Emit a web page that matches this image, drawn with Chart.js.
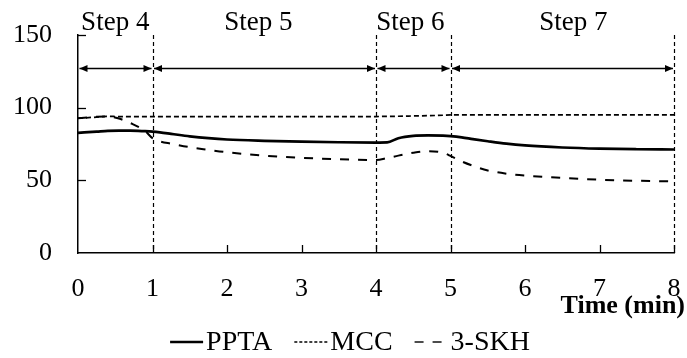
<!DOCTYPE html>
<html><head><meta charset="utf-8">
<script src="https://cdn.jsdelivr.net/npm/chart.js@4.4.1/dist/chart.umd.min.js"></script>
<style>html,body{margin:0;padding:0;background:#fff;}#wrap{width:687px;height:358px;position:relative;}</style>
</head><body><div id="wrap"><canvas id="c" width="687" height="358"></canvas></div>
<script>
const time = [0, 0.25, 0.4, 0.55, 0.7, 0.9, 1, 1.1, 1.25, 1.5, 1.75, 2, 2.5, 3, 3.5, 4, 4.15, 4.3, 4.5, 4.7, 4.9, 5, 5.15, 5.3, 5.5, 5.75, 6, 6.5, 7, 7.5, 8];
const ppta = [82.7, 83.5, 84, 84.2, 84.2, 83.8, 83.5, 83, 82, 80.3, 79, 78.1, 77.2, 76.6, 76.2, 76, 76.1, 79, 80.6, 80.9, 80.7, 80.4, 79.6, 78.4, 76.9, 75.2, 74.0, 72.6, 71.8, 71.4, 71.2];
const mcc = [92.7, 93.5, 94, 93.9, 93.9, 93.9, 93.9, 93.9, 93.9, 93.9, 93.9, 93.9, 93.9, 93.9, 93.9, 93.9, 94, 94.1, 94.3, 94.5, 94.8, 95, 95, 95, 95, 95, 95, 95, 95, 95, 95];
const skh = [92.7, 93.8, 94, 92.5, 89.5, 84, 79, 76.8, 75.2, 72.8, 71, 69.3, 67, 65.5, 64.5, 64, 65.3, 67, 69, 70.1, 69, 66.8, 63, 60, 56.8, 54.6, 53.3, 51.7, 50.4, 49.7, 49.3];
const seriesNames = ['PPTA', 'MCC', '3-SKH'];
const xTicks = [0, 1, 2, 3, 4, 5, 6, 7, 8];
const yTicks = [0, 50, 100, 150];
const stepNames = ['Step 4', 'Step 5', 'Step 6', 'Step 7'];
const stepBounds = [0, 1, 4, 5, 8];
const stepLabelX = [0.5, 2.42, 4.46, 6.65];
const arrowY = 127;
const xTitle = 'Time (min)';

const SERIF = '"Liberation Serif", "DejaVu Serif", serif';
function pts(ys){ return time.map((t,i)=>({x:t,y:ys[i]})); }

const decor = {
  id: 'decor',
  beforeDatasetsDraw(chart){
    const ctx = chart.ctx, xs = chart.scales.x, ys = chart.scales.y;
    ctx.save();
    ctx.strokeStyle = '#000';
    ctx.lineWidth = 1.2;
    ctx.setLineDash([4,3]);
    stepBounds.slice(1).forEach(b=>{
      const x = Math.round(xs.getPixelForValue(b))+0.5;
      ctx.beginPath(); ctx.moveTo(x, ys.getPixelForValue(150)); ctx.lineTo(x, ys.getPixelForValue(0)); ctx.stroke();
    });
    ctx.setLineDash([]);
    const ay = Math.round(ys.getPixelForValue(arrowY))+0.5;
    ctx.lineWidth = 1.3;
    ctx.fillStyle = '#000';
    for(let i=0;i<stepBounds.length-1;i++){
      const x1 = xs.getPixelForValue(stepBounds[i])+1.5;
      const x2 = xs.getPixelForValue(stepBounds[i+1])-1;
      ctx.beginPath(); ctx.moveTo(x1, ay); ctx.lineTo(x2, ay); ctx.stroke();
      ctx.beginPath(); ctx.moveTo(x1, ay); ctx.lineTo(x1+8, ay-3.5); ctx.lineTo(x1+8, ay+3.5); ctx.closePath(); ctx.fill();
      ctx.beginPath(); ctx.moveTo(x2, ay); ctx.lineTo(x2-8, ay-3.5); ctx.lineTo(x2-8, ay+3.5); ctx.closePath(); ctx.fill();
    }
    ctx.restore();
  },
  afterDraw(chart){
    const ctx = chart.ctx, xs = chart.scales.x, ys = chart.scales.y;
    const ca = chart.chartArea;
    ctx.save();
    ctx.strokeStyle = '#000'; ctx.fillStyle = '#000';
    ctx.lineWidth = 1.3;
    xTicks.slice(1).forEach(v=>{
      const x = Math.round(xs.getPixelForValue(v))+0.5;
      ctx.beginPath(); ctx.moveTo(x, ca.bottom); ctx.lineTo(x, ca.bottom-8); ctx.stroke();
    });
    yTicks.slice(1).forEach(v=>{
      const y = Math.round(ys.getPixelForValue(v))+0.5;
      ctx.beginPath(); ctx.moveTo(ca.left, y); ctx.lineTo(ca.left+8, y); ctx.stroke();
    });
    ctx.font = '27px ' + SERIF;
    ctx.textAlign = 'center'; ctx.textBaseline = 'alphabetic';
    stepNames.forEach((s,i)=>{ ctx.fillText(s, xs.getPixelForValue(stepLabelX[i]), 30); });
    ctx.font = 'bold 26px ' + SERIF;
    ctx.textAlign = 'right';
    ctx.fillText(xTitle, 685, 313);
    ctx.font = '28px ' + SERIF;
    ctx.textAlign = 'left'; ctx.textBaseline = 'middle';
    const sampleW = 33, gapST = 3, gapItem = 22, ly = 342;
    const widths = seriesNames.map(n=>ctx.measureText(n).width);
    const total = widths.reduce((a,w)=>a+sampleW+gapST+w,0) + gapItem*(seriesNames.length-1);
    let x = 350 - total/2;
    chart.data.datasets.forEach((ds,i)=>{
      ctx.save();
      ctx.lineWidth = i === 0 ? ds.borderWidth : 1.4;
      ctx.setLineDash(i === 1 ? [3,2] : (ds.borderDash || []));
      ctx.beginPath(); ctx.moveTo(x, ly); ctx.lineTo(x+sampleW, ly); ctx.stroke();
      ctx.restore();
      x += sampleW + gapST;
      ctx.fillText(seriesNames[i], x, ly+1);
      x += widths[i] + gapItem;
    });
    ctx.restore();
  }
};

function noPad(s){ s.paddingTop = 0; s.paddingBottom = 0; s.paddingLeft = 0; s.paddingRight = 0; }

new Chart(document.getElementById('c'), {
  type: 'line',
  data: {
    datasets: [
      {label: seriesNames[0], data: pts(ppta), borderColor:'#000', borderWidth:2.7, pointRadius:0, cubicInterpolationMode:'monotone', fill:false},
      {label: seriesNames[1], data: pts(mcc), borderColor:'#000', borderWidth:1.7, borderDash:[5,3], pointRadius:0, cubicInterpolationMode:'monotone', fill:false},
      {label: seriesNames[2], data: pts(skh), borderColor:'#000', borderWidth:2, borderDash:[9,9], pointRadius:0, cubicInterpolationMode:'monotone', fill:false}
    ]
  },
  options: {
    responsive: false,
    animation: false,
    layout: {padding: {top: 35, right: 13, left: 0, bottom: 40}},
    plugins: {legend: {display:false}, tooltip: {enabled:false}},
    scales: {
      x: {
        type: 'linear', min: 0, max: 8,
        afterBuildTicks(s){ s.ticks = xTicks.map(v=>({value:v})); },
        afterFit(s){ s.height = 65; noPad(s); },
        grid: {display:false, drawTicks:false},
        border: {display:true, color:'#000', width:1.5},
        ticks: {color:'#000', font:{family:SERIF, size:26}, padding:21, maxRotation:0, autoSkip:false}
      },
      y: {
        min: 0, max: 150,
        afterBuildTicks(s){ s.ticks = yTicks.map(v=>({value:v})); },
        afterFit(s){ s.width = 78; noPad(s); },
        grid: {display:false, drawTicks:false},
        border: {display:true, color:'#000', width:1.5},
        ticks: {color:'#000', font:{family:SERIF, size:26}, padding:26}
      }
    }
  },
  plugins: [decor]
});
</script></body></html>
